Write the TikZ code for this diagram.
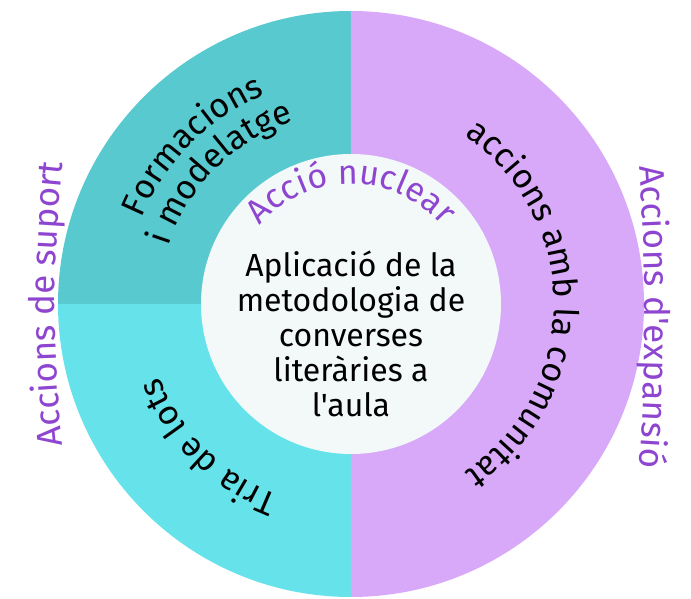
\documentclass[tikz,border=0pt]{standalone}
\usepackage{fontspec}
\setmainfont{Fira Sans}[Ligatures=TeXOff]
\usetikzlibrary{decorations.text}
\definecolor{supporttop}{HTML}{58C9CF}
\definecolor{supportlow}{HTML}{66E3EA}
\definecolor{expansion}{HTML}{D8A9F9}
\definecolor{corefill}{HTML}{F3F8F9}
\definecolor{labelpurple}{HTML}{8E45D0}
\newcommand{\ringfont}{\fontsize{34}{34}\selectfont}
\newcommand{\labelfont}{\fontsize{35}{35}\selectfont\color{labelpurple}}

\begin{document}
\begin{tikzpicture}[x=1pt,y=1pt,
  curvedtext/.style={decorate,decoration={text along path,text align=center,text={#1}}}]
  \useasboundingbox (-351,-295) rectangle (340,304);
  \coordinate (c) at (0,0);
  \fill[supporttop] (c) -- (180:293) arc[start angle=180,end angle=90,radius=293] -- cycle;
  \fill[supportlow] (c) -- (180:293) arc[start angle=180,end angle=270,radius=293] -- cycle;
  \fill[expansion] (c) -- (90:293) arc[start angle=90,end angle=-90,radius=293] -- cycle;
  \fill[corefill] (c) circle (150);
  \path[curvedtext={|\ringfont|Formacions}] (180:226) arc[start angle=180,end angle=90,radius=226];
  \path[curvedtext={|\ringfont|i modelatge}] (180:191) arc[start angle=180,end angle=90,radius=191];
  \path[curvedtext={|\ringfont|Tria de lots}] (270:205) arc[start angle=270,end angle=180,radius=205];
  \path[curvedtext={|\ringfont|accions amb la comunitat}] (90:203) arc[start angle=90,end angle=-90,radius=203];
  \path[curvedtext={|\ringfont\color{labelpurple}|Acció nuclear}] (180:120) arc[start angle=180,end angle=0,radius=120];
  \path[curvedtext={|\labelfont|Accions de suport}] (-276.2,-226.6) arc[start angle=190,end angle=170,radius=1305];
  \path[curvedtext={|\labelfont|Accions d'expansió}] (281.1,213.4) arc[start angle=6.5,end angle=-6.5,radius=2000];
  \node[align=center,font=\fontsize{32}{35}\selectfont] (core) at (0,-30)
    {Aplicació de la\\metodologia de\\converses\\literàries a\\l'aula};
\end{tikzpicture}
\end{document}
